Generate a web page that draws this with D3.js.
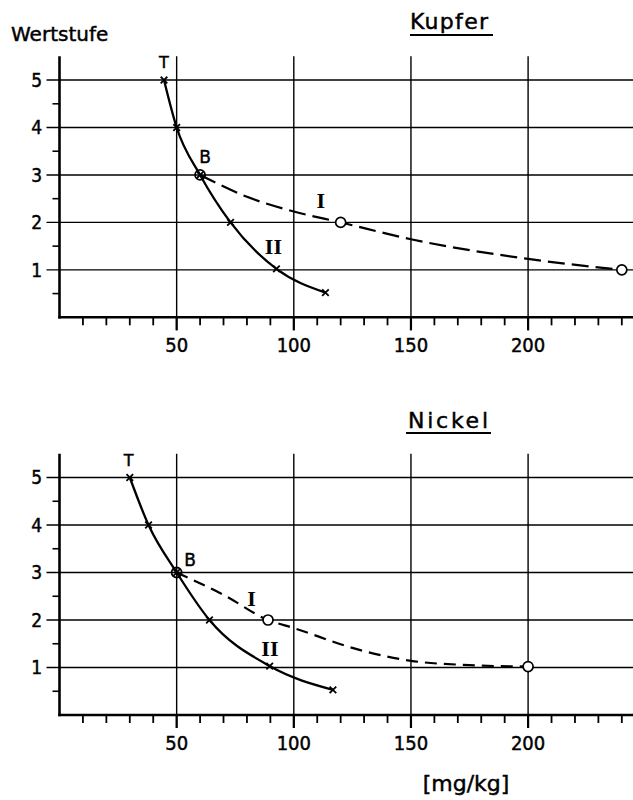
<!DOCTYPE html>
<html><head><meta charset="utf-8">
<script src="https://cdn.jsdelivr.net/npm/d3@7"></script>
<style>body{margin:0;background:#fff}</style></head>
<body>
<svg id="c" width="633" height="800"></svg>
<script>
// ---- data ----
const yTickValues = [1, 2, 3, 4, 5];
const yMinorValues = [0.5, 1.5, 2.5, 3.5, 4.5];
const xTickValues = [50, 100, 150, 200];
const xMinorValues = [10,20,30,40,60,70,80,90,110,120,130,140,160,170,180,190,210,220,230,240];

const kupferIIx = [44.6, 50, 60, 73, 92.6, 113.5];
const kupferIIy = [5, 4, 3, 2, 1.02, 0.52];
const kupferIx  = [60, 80, 100, 120, 150, 200, 240];
const kupferIy  = [3, 2.54, 2.23, 2, 1.645, 1.23, 1];
const kupferCircX = [120, 240];
const kupferCircY = [2, 1];
const kupferB = [60, 3];

const nickelIIx = [30, 38, 50, 64, 89.7, 116.7];
const nickelIIy = [5, 4, 3, 2, 1.03, 0.53];
const nickelIx  = [50, 70, 89, 100, 128, 150, 175, 200];
const nickelIy  = [3, 2.53, 2, 1.83, 1.37, 1.14, 1.05, 1.02];
const nickelCircX = [89, 200];
const nickelCircY = [2, 1.02];
const nickelB = [50, 3];

// annotation label anchors (data units)
const kupferLabels = [["T",44.6,5.25,"s"],["B",62.1,3.25,"s"],["I",111.5,2.3,"r"],["II",91.3,1.33,"r"]];
const nickelLabels = [["T",29.5,5.24,"s"],["B",55.7,3.14,"s"],["I",82,2.29,"r"],["II",89.8,1.24,"r"]];

const panels = [
  {title:"Kupfer", y0:317.3, unit:47.45, IIx:kupferIIx, IIy:kupferIIy, Ix:kupferIx, Iy:kupferIy,
   cx:kupferCircX, cy:kupferCircY, B:kupferB, labels:kupferLabels, dash:"17,7",
   titleX:449, titleY:28.5, ulY:35, ulX:[410,493], titleLen:78},
  {title:"Nickel", y0:715, unit:47.5, IIx:nickelIIx, IIy:nickelIIy, Ix:nickelIx, Iy:nickelIy,
   cx:nickelCircX, cy:nickelCircY, B:nickelB, labels:nickelLabels, dash:"12,7",
   titleX:448, titleY:428, ulY:433, ulX:[406,491], titleLen:80}
];

const svg = d3.select("#c");
const x = d3.scaleLinear().domain([0, 245]).range([59.5, 59.5 + 245*2.343]);
const numFont = "'DejaVu Sans Condensed','DejaVu Sans',sans-serif";
const boldish = sel => sel.attr("stroke", "#000").attr("stroke-width", 0.45);

panels.forEach(p => {
  const y = d3.scaleLinear().domain([0, 5.5]).range([p.y0, p.y0 - 5.5*p.unit]);
  const g = svg.append("g");

  g.selectAll(".hg").data(yTickValues).join("line")
    .attr("x1", x(0) - 13).attr("x2", 633)
    .attr("y1", d => y(d)).attr("y2", d => y(d))
    .attr("stroke", "#000").attr("stroke-width", 1.4);
  g.selectAll(".ym").data(yMinorValues).join("line")
    .attr("x1", x(0) - 7).attr("x2", x(0))
    .attr("y1", d => y(d)).attr("y2", d => y(d))
    .attr("stroke", "#000").attr("stroke-width", 1.6);
  g.selectAll(".vg").data(xTickValues).join("line")
    .attr("x1", d => x(d)).attr("x2", d => x(d))
    .attr("y1", y(5.5)).attr("y2", y(0) + 13)
    .attr("stroke", "#000").attr("stroke-width", 1.4);
  g.selectAll(".vgt").data(xTickValues).join("line")
    .attr("x1", d => x(d)).attr("x2", d => x(d))
    .attr("y1", y(0)).attr("y2", y(0) + 13)
    .attr("stroke", "#000").attr("stroke-width", 2.2);
  g.selectAll(".xm").data(xMinorValues).join("line")
    .attr("x1", d => x(d)).attr("x2", d => x(d))
    .attr("y1", y(0)).attr("y2", y(0) + 8)
    .attr("stroke", "#000").attr("stroke-width", 1.8);
  g.append("line").attr("x1", x(0)).attr("x2", x(0)).attr("y1", y(5.5)).attr("y2", y(0)+1.2)
    .attr("stroke", "#000").attr("stroke-width", 2.6);
  g.append("line").attr("x1", x(0)-1.3).attr("x2", 633).attr("y1", y(0)).attr("y2", y(0))
    .attr("stroke", "#000").attr("stroke-width", 2.6);

  g.selectAll(".yl").data(yTickValues).join("text")
    .attr("x", 42).attr("y", d => y(d)).attr("dy", "0.36em")
    .attr("text-anchor", "end").attr("font-family", numFont).attr("font-size", 19)
    .text(d => d).call(boldish);
  g.selectAll(".xl").data(xTickValues).join("text")
    .attr("x", d => x(d)).attr("y", y(0) + 35)
    .attr("text-anchor", "middle").attr("font-family", numFont).attr("font-size", 20)
    .text(d => d).call(boldish);

  const line = d3.line().x(d => x(d[0])).y(d => y(d[1])).curve(d3.curveMonotoneX);
  const ptsI = p.Ix.map((v, i) => [v, p.Iy[i]]);
  const ptsII = p.IIx.map((v, i) => [v, p.IIy[i]]);
  g.append("path").attr("d", line(ptsI)).attr("fill", "none").attr("stroke", "#000")
    .attr("stroke-width", 2.2).attr("stroke-dasharray", p.dash);
  g.append("path").attr("d", line(ptsII)).attr("fill", "none").attr("stroke", "#000")
    .attr("stroke-width", 2.3);

  g.selectAll(".ci").data(p.cx.map((v, i) => [v, p.cy[i]])).join("circle")
    .attr("cx", d => x(d[0])).attr("cy", d => y(d[1])).attr("r", 5)
    .attr("fill", "#fff").attr("stroke", "#000").attr("stroke-width", 1.7);
  g.append("circle").attr("cx", x(p.B[0])).attr("cy", y(p.B[1])).attr("r", 5)
    .attr("fill", "none").attr("stroke", "#000").attr("stroke-width", 1.8);
  const s = 3.3;
  ptsII.forEach(d => {
    const cx = x(d[0]), cy = y(d[1]);
    g.append("path").attr("d", `M${cx-s},${cy-s}L${cx+s},${cy+s}M${cx-s},${cy+s}L${cx+s},${cy-s}`)
      .attr("stroke", "#000").attr("stroke-width", 1.8);
  });

  p.labels.forEach(([t, lx, ly, kind]) => {
    const el = g.append("text").attr("x", x(lx)).attr("y", y(ly)).attr("text-anchor", "middle").text(t);
    if (kind === "s") el.attr("font-family", "'DejaVu Sans',sans-serif").attr("font-size", t === "T" ? 16 : 17).call(boldish);
    else el.attr("font-family", "'Liberation Serif',serif").attr("font-size", 22).attr("font-weight", "bold");
  });

  svg.append("text").attr("x", p.titleX).attr("y", p.titleY).attr("text-anchor", "middle")
    .attr("font-family", "'DejaVu Sans',sans-serif").attr("font-size", 22)
    .attr("textLength", p.titleLen).attr("lengthAdjust", "spacing").text(p.title).call(boldish);
  svg.append("line").attr("x1", p.ulX[0]).attr("x2", p.ulX[1]).attr("y1", p.ulY).attr("y2", p.ulY)
    .attr("stroke", "#000").attr("stroke-width", 2.2);
});

svg.append("text").attr("x", 11).attr("y", 40.5).attr("font-family", "'DejaVu Sans',sans-serif")
  .attr("font-size", 20).text("Wertstufe").call(boldish);
svg.append("text").attr("x", 466).attr("y", 791).attr("text-anchor", "middle")
  .attr("font-family", "'DejaVu Sans',sans-serif").attr("font-size", 22).text("[mg/kg]").call(boldish);
</script>
</body></html>
